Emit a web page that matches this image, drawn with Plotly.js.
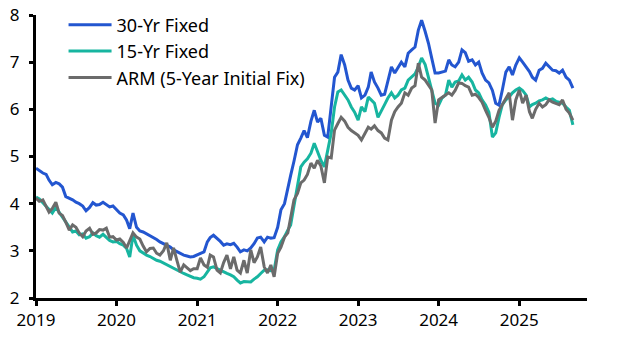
<!DOCTYPE html>
<html>
<head>
<meta charset="utf-8">
<script src="https://cdn.plot.ly/plotly-3.0.1.min.js"></script>
<style>html,body{margin:0;padding:0;background:#fff;}#chart{width:625px;height:338px;}</style>
</head>
<body>
<div id="chart"></div>
<script>
// Half-monthly observations (1st and 16th of each month), Jan 2019 - Sep 2025
const seriesNames = ["30-Yr Fixed", "15-Yr Fixed", "ARM (5-Year Initial Fix)"];
const startYear = 2019;

const fixed30 = [
  // 2019
  4.75, 4.70, 4.65, 4.62, 4.50, 4.40, 4.45, 4.42, 4.35, 4.15, 4.12, 4.08, 4.03, 4.00, 3.95, 3.85, 3.92, 4.02, 3.97, 3.98, 4.03, 3.98, 3.93, 3.95,
  // 2020
  3.86, 3.80, 3.76, 3.65, 3.47, 3.80, 3.50, 3.42, 3.40, 3.36, 3.33, 3.28, 3.24, 3.19, 3.15, 3.12, 3.08, 3.02, 2.98, 2.94, 2.91, 2.89, 2.87, 2.88,
  // 2021
  2.91, 2.95, 2.98, 3.19, 3.28, 3.33, 3.27, 3.20, 3.12, 3.15, 3.13, 3.16, 3.08, 2.98, 3.02, 3.00, 3.06, 3.15, 3.27, 3.29, 3.19, 3.29, 3.27, 3.28,
  // 2022
  3.50, 3.87, 4.00, 4.35, 4.60, 4.90, 5.25, 5.39, 5.55, 5.40, 5.75, 5.98, 5.73, 5.81, 5.45, 5.41, 6.05, 6.68, 6.79, 7.16, 6.94, 6.62, 6.45, 6.41,
  // 2023
  6.50, 6.24, 6.30, 6.47, 6.79, 6.58, 6.45, 6.30, 6.32, 6.62, 6.90, 6.77, 6.90, 7.00, 6.90, 7.19, 7.26, 7.32, 7.68, 7.89, 7.65, 7.40, 7.08, 6.77,
  // 2024
  6.77, 6.79, 6.81, 7.05, 6.94, 6.90, 7.00, 7.26, 7.20, 7.02, 7.05, 6.94, 7.00, 6.77, 6.62, 6.56, 6.40, 6.13, 6.09, 6.41, 6.79, 6.90, 6.73, 6.94,
  // 2025
  7.09, 7.00, 6.90, 6.80, 6.68, 6.62, 6.83, 6.87, 6.98, 6.90, 6.83, 6.82, 6.77, 6.83, 6.68, 6.62, 6.45
];

const fixed15 = [
  // 2019
  4.14, 4.10, 4.02, 3.95, 3.88, 3.80, 3.92, 3.82, 3.72, 3.61, 3.50, 3.40, 3.42, 3.34, 3.36, 3.27, 3.30, 3.38, 3.32, 3.29, 3.35, 3.28, 3.22, 3.19,
  // 2020
  3.20, 3.15, 3.12, 3.05, 2.87, 3.33, 3.12, 3.00, 2.95, 2.91, 2.88, 2.84, 2.80, 2.78, 2.74, 2.70, 2.66, 2.62, 2.59, 2.56, 2.52, 2.49, 2.46, 2.43,
  // 2021
  2.42, 2.40, 2.45, 2.55, 2.64, 2.66, 2.62, 2.59, 2.55, 2.52, 2.49, 2.45, 2.38, 2.32, 2.35, 2.34, 2.34, 2.40, 2.45, 2.52, 2.59, 2.60, 2.58, 2.59,
  // 2022
  3.02, 3.19, 3.30, 3.44, 3.55, 3.95, 4.35, 4.78, 4.88, 4.95, 5.07, 5.28, 5.10, 4.92, 4.78, 5.14, 5.50, 6.05, 6.37, 6.41, 6.30, 6.20, 6.05, 5.94,
  // 2023
  5.77, 6.05, 5.95, 6.26, 6.20, 6.13, 5.83, 5.95, 6.10, 6.24, 6.35, 6.24, 6.30, 6.41, 6.45, 6.62, 6.68, 6.75, 6.90, 7.09, 6.95, 6.68, 6.35, 6.13,
  // 2024
  6.09, 6.24, 6.30, 6.62, 6.47, 6.58, 6.60, 6.73, 6.62, 6.68, 6.58, 6.41, 6.35, 6.20, 6.09, 5.94, 5.41, 5.50, 5.83, 6.10, 6.20, 6.26, 6.35, 6.41,
  // 2025
  6.45, 6.40, 6.30, 6.05, 6.10, 6.13, 6.18, 6.20, 6.24, 6.20, 6.22, 6.17, 6.15, 6.13, 6.05, 5.98, 5.67
];

const arm5 = [
  // 2019
  4.12, 4.05, 4.08, 3.95, 3.82, 3.90, 4.03, 3.80, 3.75, 3.61, 3.44, 3.55, 3.50, 3.38, 3.30, 3.42, 3.48, 3.35, 3.38, 3.45, 3.44, 3.48, 3.29, 3.30,
  // 2020
  3.23, 3.25, 3.18, 3.06, 3.20, 3.38, 3.29, 3.25, 3.10, 2.98, 3.05, 3.06, 2.95, 2.91, 3.00, 3.17, 2.80, 3.06, 2.80, 2.55, 2.70, 2.64, 2.58, 2.62,
  // 2021
  2.62, 2.85, 2.70, 2.65, 2.91, 2.87, 2.59, 2.53, 2.75, 2.91, 2.62, 2.87, 2.59, 2.53, 2.80, 2.53, 3.02, 2.75, 2.87, 3.08, 2.66, 2.53, 2.70, 2.45,
  // 2022
  2.95, 3.08, 3.29, 3.38, 3.72, 4.08, 4.22, 4.44, 4.50, 4.62, 4.86, 4.75, 4.92, 4.80, 4.44, 4.99, 4.97, 5.56, 5.70, 5.83, 5.75, 5.62, 5.55, 5.50,
  // 2023
  5.45, 5.35, 5.50, 5.62, 5.58, 5.65, 5.55, 5.50, 5.39, 5.35, 5.77, 5.95, 6.05, 6.13, 6.35, 6.30, 6.45, 6.50, 6.98, 6.68, 6.62, 6.50, 6.41, 5.71,
  // 2024
  6.20, 6.25, 6.30, 6.35, 6.30, 6.40, 6.56, 6.55, 6.50, 6.47, 6.30, 6.32, 6.25, 6.15, 5.98, 5.83, 5.62, 5.75, 5.98, 6.10, 6.20, 6.35, 5.77, 6.20,
  // 2025
  6.41, 6.13, 6.30, 5.95, 5.81, 6.00, 6.13, 6.05, 6.10, 6.20, 6.15, 6.12, 6.10, 6.20, 6.00, 5.92, 5.77
];

const yTicks = [2, 3, 4, 5, 6, 7, 8];
const xTickYears = ["2019", "2020", "2021", "2022", "2023", "2024", "2025"];

function pad(n){ return (n < 10 ? "0" : "") + n; }
function halfMonthDates(n){
  const out = [];
  for (let i = 0; i < n; i++){
    const y = startYear + Math.floor(i / 24);
    const m = Math.floor((i % 24) / 2) + 1;
    const d = (i % 2) ? 16 : 1;
    out.push(y + "-" + pad(m) + "-" + pad(d));
  }
  return out;
}

const colors = ["#2356d0", "#17b5a0", "#6b6b6b"];
const allSeries = [fixed30, fixed15, arm5];
const traces = allSeries.map((vals, k) => ({
  type: "scatter",
  mode: "lines",
  name: seriesNames[k],
  x: halfMonthDates(vals.length),
  y: vals,
  line: {color: colors[k], width: 3},
  hoverinfo: "skip"
}));

const font = {family: "Noto Sans, DejaVu Sans, sans-serif", size: 17, color: "#000"};
const yAxisCommon = {
  range: [2, 8],
  tickvals: yTicks,
  ticktext: yTicks.map(String),
  showgrid: false,
  zeroline: false,
  showline: true,
  linecolor: "#000",
  linewidth: 3,
  ticks: "outside",
  ticklen: 4,
  tickwidth: 3,
  tickcolor: "#000",
  ticklabelstandoff: 6,
  tickfont: font,
  fixedrange: true
};

const layout = {
  width: 625,
  height: 338,
  margin: {l: 36, r: 38, t: 15, b: 40, autoexpand: false},
  paper_bgcolor: "#fff",
  plot_bgcolor: "#fff",
  font: font,
  showlegend: true,
  legend: {
    x: 0.05, y: 1.03, xanchor: "left", yanchor: "top",
    bgcolor: "rgba(0,0,0,0)",
    font: {family: "Noto Sans, DejaVu Sans, sans-serif", size: 18, color: "#000"},
    tracegroupgap: 0,
    itemwidth: 43
  },
  xaxis: {
    type: "date",
    range: ["2019-01-01", "2025-11-04"],
    tickvals: xTickYears.map(y => y + "-01-01"),
    ticktext: xTickYears,
    showgrid: false,
    zeroline: false,
    showline: true,
    linecolor: "#000",
    linewidth: 3,
    ticks: "outside",
    ticklen: 5,
    tickwidth: 3,
    tickcolor: "#000",
    tickfont: font,
    fixedrange: true
  },
  yaxis: Object.assign({}, yAxisCommon, {side: "left"}),
  yaxis2: Object.assign({}, yAxisCommon, {side: "right", overlaying: "y", anchor: "x"})
};

Plotly.newPlot("chart", traces, layout, {staticPlot: true, displayModeBar: false});
</script>
</body>
</html>
